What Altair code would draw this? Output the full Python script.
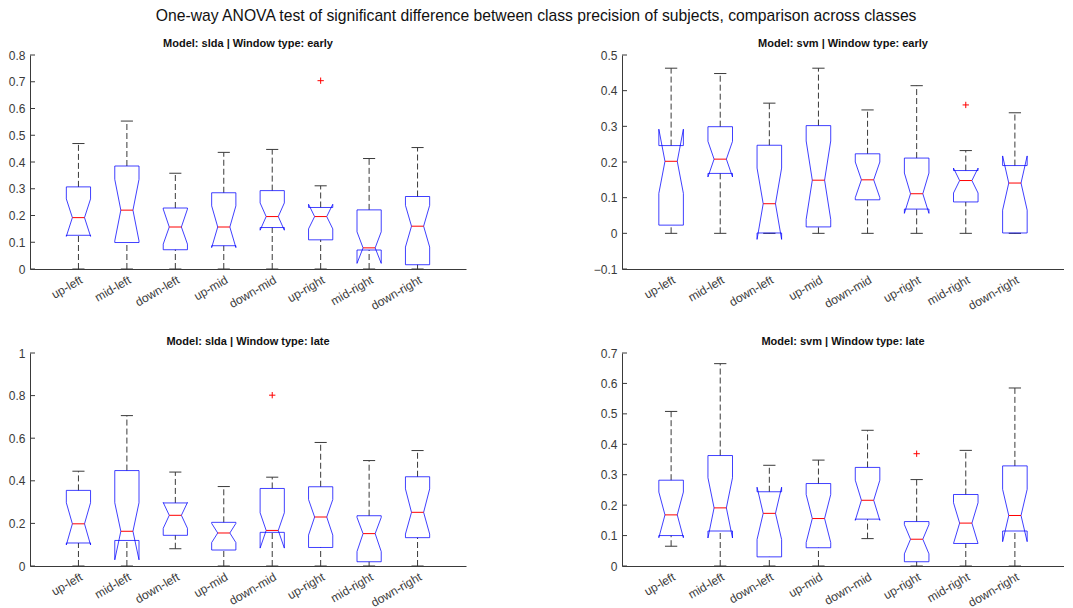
import json
import altair as alt
import pandas as pd

# ---------------- data ----------------
categories = ["up-left", "mid-left", "down-left", "up-mid",
              "down-mid", "up-right", "mid-right", "down-right"]

main_title = ("One-way ANOVA test of significant difference between class "
              "precision of subjects, comparison across classes")

# slda | early
slda_early_lower = [0, 0, 0, 0, 0, 0, 0, 0]
slda_early_q1 = [0.126, 0.099, 0.072, 0.087, 0.155, 0.109, 0.071, 0.016]
slda_early_nlo = [0.122, 0.105, 0.093, 0.080, 0.145, 0.150, 0.021, 0.082]
slda_early_med = [0.192, 0.220, 0.157, 0.157, 0.196, 0.196, 0.079, 0.160]
slda_early_nhi = [0.262, 0.335, 0.224, 0.236, 0.247, 0.242, 0.139, 0.238]
slda_early_q3 = [0.307, 0.385, 0.228, 0.285, 0.293, 0.230, 0.221, 0.271]
slda_early_upper = [0.469, 0.553, 0.358, 0.436, 0.447, 0.311, 0.413, 0.454]
slda_early_out_cat = ["up-right"]
slda_early_out_val = [0.704]
slda_early_yticks = [0, 0.1, 0.2, 0.3, 0.4, 0.5, 0.6, 0.7, 0.8]

# svm | early
svm_early_lower = [0, 0, 0, 0, 0, 0, 0, 0]
svm_early_q1 = [0.023, 0.168, 0.001, 0.018, 0.094, 0.068, 0.088, 0.001]
svm_early_nlo = [0.112, 0.158, -0.017, 0.039, 0.100, 0.056, 0.113, 0.065]
svm_early_med = [0.202, 0.208, 0.083, 0.149, 0.150, 0.111, 0.148, 0.141]
svm_early_nhi = [0.292, 0.258, 0.183, 0.259, 0.200, 0.169, 0.183, 0.217]
svm_early_q3 = [0.246, 0.299, 0.247, 0.302, 0.223, 0.211, 0.176, 0.190]
svm_early_upper = [0.463, 0.448, 0.365, 0.463, 0.346, 0.414, 0.232, 0.338]
svm_early_out_cat = ["mid-right"]
svm_early_out_val = [0.360]
svm_early_yticks = [-0.1, 0, 0.1, 0.2, 0.3, 0.4, 0.5]

# slda | late
slda_late_lower = [0, 0, 0.081, 0, 0, 0, 0, 0]
slda_late_q1 = [0.108, 0.120, 0.144, 0.075, 0.158, 0.087, 0.020, 0.133]
slda_late_nlo = [0.099, 0.029, 0.177, 0.110, 0.084, 0.145, 0.068, 0.150]
slda_late_med = [0.198, 0.163, 0.238, 0.155, 0.167, 0.230, 0.152, 0.252]
slda_late_nhi = [0.297, 0.297, 0.298, 0.200, 0.250, 0.312, 0.228, 0.362]
slda_late_q3 = [0.355, 0.448, 0.296, 0.205, 0.364, 0.372, 0.236, 0.419]
slda_late_upper = [0.445, 0.706, 0.441, 0.373, 0.417, 0.580, 0.495, 0.542]
slda_late_out_cat = ["down-mid"]
slda_late_out_val = [0.802]
slda_late_yticks = [0, 0.2, 0.4, 0.6, 0.8, 1]

# svm | late
svm_late_lower = [0.065, 0, 0, 0, 0.090, 0, 0, 0]
svm_late_q1 = [0.100, 0.115, 0.030, 0.060, 0.154, 0.014, 0.074, 0.115]
svm_late_nlo = [0.093, 0.092, 0.087, 0.077, 0.150, 0.040, 0.074, 0.080]
svm_late_med = [0.168, 0.191, 0.173, 0.156, 0.216, 0.088, 0.141, 0.166]
svm_late_nhi = [0.243, 0.290, 0.259, 0.235, 0.282, 0.136, 0.208, 0.252]
svm_late_q3 = [0.282, 0.363, 0.244, 0.271, 0.324, 0.146, 0.235, 0.329]
svm_late_upper = [0.508, 0.665, 0.331, 0.348, 0.446, 0.284, 0.380, 0.585]
svm_late_out_cat = ["up-right"]
svm_late_out_val = [0.369]
svm_late_yticks = [0, 0.1, 0.2, 0.3, 0.4, 0.5, 0.6, 0.7]

# ---------------- style ----------------
FONT = "Liberation Sans"
AXIS_COLOR = "#3a3a3a"
BOX_COLOR = "#0000ff"
MED_COLOR = "#ff0000"
WHISK_COLOR = "#3a3a3a"
HALF_BOX = 0.25      # box half-width in category units
HALF_NOTCH = 0.125   # notch / cap half-width

label_expr = "%s[datum.value - 1]" % json.dumps(categories)


def panel(title, lower, q1, nlo, med, nhi, q3, upper, out_cat, out_val,
          yticks, width, height):
    ydom = [yticks[0], yticks[-1]]
    xscale = alt.Scale(domain=[0, len(categories) + 1], nice=False, zero=False)
    yscale = alt.Scale(domain=ydom, nice=False, zero=False)
    xaxis = alt.Axis(values=list(range(1, len(categories) + 1)),
                     labelExpr=label_expr, labelAngle=-30, labelAlign="right",
                     labelBaseline="top", labelPadding=5, ticks=False,
                     labelOverlap=False, labelBound=False,
                     grid=False, domainColor=AXIS_COLOR, labelColor=AXIS_COLOR,
                     labelFont=FONT, labelFontSize=12, title=None)
    yaxis = alt.Axis(values=yticks, format="~g", ticks=False, grid=False,
                     labelPadding=5, domainColor=AXIS_COLOR,
                     labelOverlap=False,
                     labelColor=AXIS_COLOR, labelFont=FONT, labelFontSize=12,
                     title=None)

    def X(f):
        return alt.X(f, type="quantitative", scale=xscale, axis=xaxis)

    def Y(f):
        return alt.Y(f, type="quantitative", scale=yscale, axis=yaxis)

    # box outline polygons (notched, MATLAB style)
    poly = []
    stats = []
    for i, c in enumerate(categories):
        p = i + 1
        pts = [(p - HALF_BOX, q1[i]), (p - HALF_BOX, nlo[i]),
               (p - HALF_NOTCH, med[i]), (p - HALF_BOX, nhi[i]),
               (p - HALF_BOX, q3[i]), (p + HALF_BOX, q3[i]),
               (p + HALF_BOX, nhi[i]), (p + HALF_NOTCH, med[i]),
               (p + HALF_BOX, nlo[i]), (p + HALF_BOX, q1[i]),
               (p - HALF_BOX, q1[i])]
        for k, (xx, yy) in enumerate(pts):
            poly.append({"cat": c, "k": k, "x": xx, "y": yy})
        stats.append({"cat": c, "p": p, "pl": p - HALF_NOTCH,
                      "pr": p + HALF_NOTCH, "lower": lower[i], "q1": q1[i],
                      "med": med[i], "q3": q3[i], "upper": upper[i]})
    poly_df = pd.DataFrame(poly)
    st = pd.DataFrame(stats)
    out_df = pd.DataFrame({"cat": out_cat,
                           "p": [categories.index(c) + 1 for c in out_cat],
                           "v": out_val})
    tick_df = pd.DataFrame({"t": yticks})

    base_st = alt.Chart(st)
    whisk_up = base_st.mark_rule(color=WHISK_COLOR, strokeWidth=1,
                                 strokeDash=[6, 3]).encode(
        x=X("p"), y=Y("q3"), y2="upper")
    whisk_lo = base_st.mark_rule(color=WHISK_COLOR, strokeWidth=1,
                                 strokeDash=[6, 3]).encode(
        x=X("p"), y=Y("lower"), y2="q1")
    cap_up = base_st.mark_rule(color=WHISK_COLOR, strokeWidth=1).encode(
        x=X("pl"), x2="pr", y=Y("upper"))
    cap_lo = base_st.mark_rule(color=WHISK_COLOR, strokeWidth=1).encode(
        x=X("pl"), x2="pr", y=Y("lower"))
    box = alt.Chart(poly_df).mark_line(color=BOX_COLOR, strokeWidth=1,
                                       strokeOpacity=0.75).encode(
        x=X("x"), y=Y("y"), detail="cat:N", order="k:Q")
    median = base_st.mark_rule(color=MED_COLOR, strokeWidth=1).encode(
        x=X("pl"), x2="pr", y=Y("med"))
    outl = alt.Chart(out_df).mark_point(
        shape="M-1,0L1,0M0,-1L0,1", filled=False, color=MED_COLOR,
        strokeWidth=1, size=40, opacity=1).encode(x=X("p"), y=Y("v"))
    yt = alt.Chart(tick_df).mark_rule(color=AXIS_COLOR, strokeWidth=1).encode(
        x=alt.value(0), x2=alt.value(5), y=Y("t"))

    return alt.layer(whisk_up, whisk_lo, cap_up, cap_lo, box, median, outl,
                     yt).properties(
        width=width, height=height,
        title=alt.TitleParams(title, font=FONT, fontSize=11,
                              fontWeight="bold", color="#111111",
                              anchor="middle", offset=0))


tl = panel("Model: slda | Window type: early", slda_early_lower, slda_early_q1,
           slda_early_nlo, slda_early_med, slda_early_nhi, slda_early_q3,
           slda_early_upper, slda_early_out_cat, slda_early_out_val,
           slda_early_yticks, 436, 214)
tr = panel("Model: svm | Window type: early", svm_early_lower, svm_early_q1,
           svm_early_nlo, svm_early_med, svm_early_nhi, svm_early_q3,
           svm_early_upper, svm_early_out_cat, svm_early_out_val,
           svm_early_yticks, 442, 214)
bl = panel("Model: slda | Window type: late", slda_late_lower, slda_late_q1,
           slda_late_nlo, slda_late_med, slda_late_nhi, slda_late_q3,
           slda_late_upper, slda_late_out_cat, slda_late_out_val,
           slda_late_yticks, 436, 213)
br = panel("Model: svm | Window type: late", svm_late_lower, svm_late_q1,
           svm_late_nlo, svm_late_med, svm_late_nhi, svm_late_q3,
           svm_late_upper, svm_late_out_cat, svm_late_out_val,
           svm_late_yticks, 442, 213)

chart = alt.concat(
    tl, tr, bl, br, columns=2, spacing={"row": 24, "column": 127},
    align="each",
    title=alt.TitleParams(main_title, font=FONT, fontSize=15.7,
                          fontWeight="normal", color="#111111",
                          anchor="middle", offset=13),
).properties(
    padding={"left": 8, "top": 8, "right": 0, "bottom": 0},
    background="white",
).configure_view(stroke=None)

chart.save("out.html", embed_options={"renderer": "svg", "actions": False})
